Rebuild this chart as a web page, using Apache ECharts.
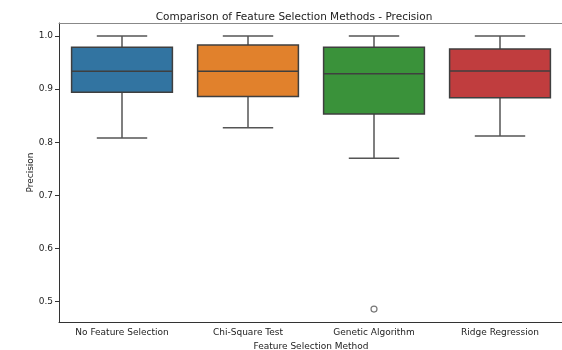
<!DOCTYPE html>
<html>
<head>
<meta charset="utf-8">
<script src="https://cdn.jsdelivr.net/npm/echarts@6/dist/echarts.min.js"></script>
<style>html,body{margin:0;padding:0;background:#fff}#c{width:562px;height:350px}</style>
</head>
<body>
<div id="c"></div>
<script>
const categories = ['No Feature Selection', 'Chi-Square Test', 'Genetic Algorithm', 'Ridge Regression'];
// [whiskerLow, Q1, median, Q3, whiskerHigh]
const noFeatureSel = [0.808, 0.894, 0.9335, 0.979, 1.0];
const chiSquare    = [0.8275, 0.886, 0.9335, 0.983, 1.0];
const geneticAlg   = [0.770, 0.853, 0.929, 0.979, 1.0];
const ridgeReg     = [0.812, 0.884, 0.934, 0.9755, 1.0];
const outliers = [[2, 0.486]];
const boxColors = ['#3274a1', '#e1812c', '#3a923a', '#c03d3e'];
const yTicks = [0.5, 0.6, 0.7, 0.8, 0.9, 1.0];

const boxes = [noFeatureSel, chiSquare, geneticAlg, ridgeReg].map((b, i) => [i].concat(b));
const chart = echarts.init(document.getElementById('c'));
const font = 'DejaVu Sans';
chart.setOption({
  animation: false,
  title: {
    text: 'Comparison of Feature Selection Methods - Precision',
    left: 289, top: 7, textAlign: 'center',
    textStyle: {fontFamily: font, fontSize: 10.5, fontWeight: 'normal', color: '#222'}
  },
  grid: {left: 59, top: 23, width: 504, height: 299, outerBoundsMode: 'none', containLabel: false},
  xAxis: [{
    type: 'category', data: categories,
    name: 'Feature Selection Method', nameLocation: 'middle', nameGap: 18,
    nameTextStyle: {fontFamily: font, fontSize: 9, color: '#222'},
    axisLine: {lineStyle: {color: '#333', width: 1}},
    axisTick: {alignWithLabel: true, length: 4, lineStyle: {color: '#333'}},
    axisLabel: {fontFamily: font, fontSize: 9, color: '#222', margin: 6, interval: 0},
    splitLine: {show: false}
  }, {
    type: 'category', data: categories, position: 'top',
    axisLine: {show: true, lineStyle: {color: '#888', width: 1}},
    axisTick: {show: false}, axisLabel: {show: false}, splitLine: {show: false}
  }],
  yAxis: {
    type: 'value', min: 0.4617, max: 1.0245,
    name: 'Precision', nameLocation: 'middle', nameGap: 24, nameMoveOverlap: false,
    nameTextStyle: {fontFamily: font, fontSize: 9, color: '#222'},
    axisLine: {show: true, lineStyle: {color: '#333', width: 1}},
    axisTick: {show: true, length: 4, customValues: yTicks, lineStyle: {color: '#333'}},
    axisLabel: {fontFamily: font, fontSize: 9, color: '#222', margin: 6, customValues: yTicks,
      formatter: v => v.toFixed(1)},
    splitLine: {show: false}
  },
  series: [
    {
      type: 'custom',
      data: boxes,
      renderItem: function (params, api) {
        const i = api.value(0);
        const lo = api.coord([i, api.value(1)]);
        const q1 = api.coord([i, api.value(2)]);
        const md = api.coord([i, api.value(3)]);
        const q3 = api.coord([i, api.value(4)]);
        const hi = api.coord([i, api.value(5)]);
        const band = api.size([1, 0])[0];
        const w = band * 0.8;
        const cx = md[0];
        const cap = w / 2;
        const line = {stroke: '#555', lineWidth: 1.5};
        return {
          type: 'group',
          children: [
            {type: 'line', shape: {x1: cx, y1: q3[1], x2: cx, y2: hi[1]}, style: line},
            {type: 'line', shape: {x1: cx, y1: q1[1], x2: cx, y2: lo[1]}, style: line},
            {type: 'line', shape: {x1: cx - cap / 2, y1: hi[1], x2: cx + cap / 2, y2: hi[1]}, style: line},
            {type: 'line', shape: {x1: cx - cap / 2, y1: lo[1], x2: cx + cap / 2, y2: lo[1]}, style: line},
            {type: 'rect', shape: {x: cx - w / 2, y: q3[1], width: w, height: q1[1] - q3[1]},
              style: {fill: boxColors[i], stroke: '#3f3f3f', lineWidth: 1.5}},
            {type: 'line', shape: {x1: cx - w / 2, y1: md[1], x2: cx + w / 2, y2: md[1]}, style: {stroke: '#3f3f3f', lineWidth: 1.5}}
          ]
        };
      }
    },
    {
      type: 'scatter', data: outliers, symbol: 'circle', symbolSize: 6,
      itemStyle: {color: '#fff', borderColor: '#555', borderWidth: 1.2}
    }
  ]
});
</script>
</body>
</html>
